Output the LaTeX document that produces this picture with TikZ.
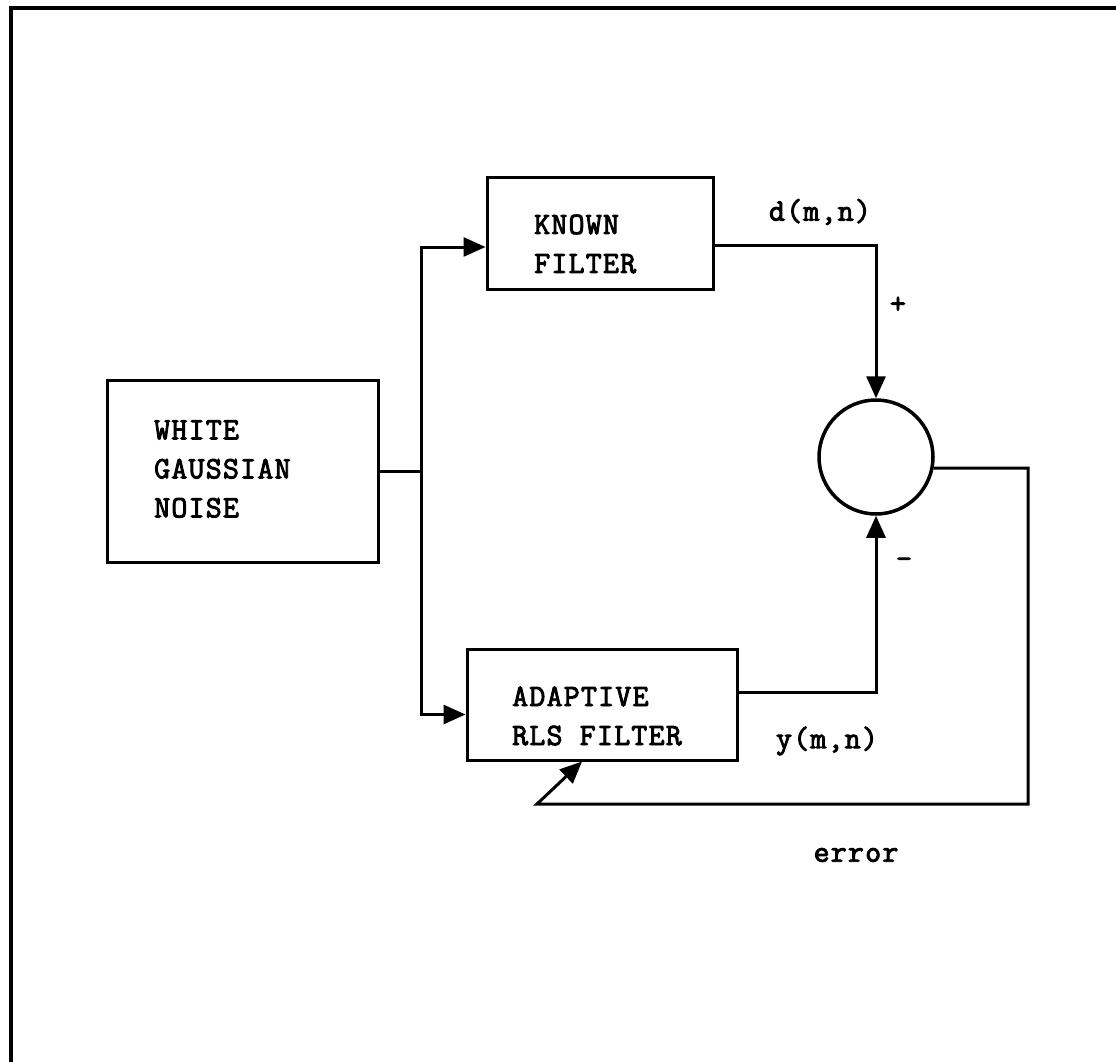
\documentclass[tikz,border=0pt]{standalone}
\usepackage{fontspec}
\newfontfamily\twfont{Latin Modern Mono}[LetterSpace=4,FakeBold=3]
\usetikzlibrary{arrows.meta}
\begin{document}
\begin{tikzpicture}[x=1pt,y=-1pt,
  box/.style={draw,line width=3pt,rectangle,inner sep=0pt},
  txt/.style={font=\twfont\fontsize{31}{39}\selectfont,align=left,inner sep=0pt,anchor=west},
  lbl/.style={font=\twfont\fontsize{31}{39}\selectfont,inner sep=0pt},
  wire/.style={line width=3pt},
  arr/.style={line width=3pt,-{Triangle[length=22pt,width=19pt]}}]
\useasboundingbox (0,0) rectangle (1116,1062);
% frame (top and left edges)
\draw[line width=3.5pt] (11,1062) -- (11,8) -- (1116,8);
% blocks
\node[box,minimum width=226pt,minimum height=112pt] (known) at (600,233) {};
\node[box,minimum width=271pt,minimum height=182pt] (wgn) at (242.5,471) {};
\node[box,minimum width=270pt,minimum height=111pt] (adapt) at (602,704.5) {};
\node[draw,circle,line width=3.5pt,minimum size=114pt,inner sep=0pt] (sum) at (876,457) {};
% block texts
\node[txt] (wgntxt) at (154,469) {WHITE\\GAUSSIAN\\NOISE};
\node[txt] (knowntxt) at (534,244) {KNOWN\\FILTER};
\node[txt] (adapttxt) at (512,716) {ADAPTIVE\\RLS FILTER};
% labels
\node[lbl] (dlab) at (820,212) {d(m,n)};
\node[lbl] (ylab) at (827,741) {y(m,n)};
\node[lbl] (elab) at (856,855) {error};
\node[lbl] (plus) at (898,305) {+};
\node[lbl] (minus) at (904,563) {-};
% connectors
\coordinate (j) at (421,471);
\coordinate (fbr) at (1028,804);
\coordinate (fbl) at (537,804);
\draw[wire] (wgn.east) -- (j);
\draw[arr] (j) |- ([yshift=-14pt]known.west);
\draw[arr] (j) |- ([yshift=-10pt]adapt.west);
\draw[arr] ([yshift=-12pt]known.east) -| (sum.north);
\draw[arr] ([yshift=12pt]adapt.east) -| (sum.south);
\draw[arr] (sum.-11) -| (fbr) -- (fbl) -- ([xshift=-20pt]adapt.south);
\end{tikzpicture}
\end{document}
